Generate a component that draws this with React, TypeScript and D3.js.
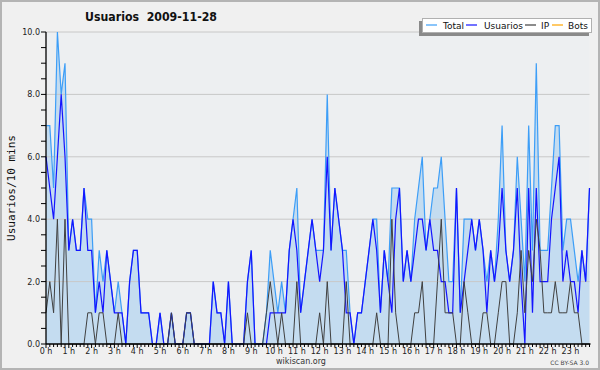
import React from 'react';
import * as d3 from 'd3';

// one value every 10 minutes, 00:00 .. 23:50
const total = [
  7, 7, 5, 10, 8, 9, 3, 4, 3, 3, 5, 4, 4, 1, 3, 2, 3, 2, 1, 2, 1, 0, 2, 3,
  3, 1, 1, 1, 0, 0, 1, 0, 0, 1, 0, 0, 0, 1, 1, 0, 0, 0, 0, 0, 2, 1, 1, 0,
  2, 0, 0, 0, 0, 2, 3, 0, 0, 0, 1, 3, 2, 1, 2, 1, 3, 4, 5, 1, 2, 3, 4, 3,
  3, 3, 8, 3, 5, 4, 3, 3, 1, 0, 1, 1, 2, 3, 4, 4, 1, 3, 2, 5, 5, 5, 2, 3,
  2, 4, 5, 6, 3, 4, 5, 5, 6, 4, 2, 2, 5, 1, 4, 4, 4, 3, 4, 3, 2, 3, 2, 4,
  7, 3, 2, 3, 6, 4, 2, 7, 3, 9, 3, 3, 3, 5, 7, 7, 3, 4, 4, 3, 2, 3, 2, 5,
];
const usuarios = [
  6, 5, 4, 6, 8, 6, 3, 4, 3, 3, 5, 3, 3, 1, 2, 1, 3, 2, 1, 1, 1, 0, 2, 3,
  3, 1, 1, 1, 0, 0, 1, 0, 0, 1, 0, 0, 0, 1, 1, 0, 0, 0, 0, 0, 2, 1, 1, 0,
  2, 0, 0, 0, 0, 2, 3, 0, 0, 0, 0, 1, 1, 1, 1, 1, 3, 4, 3, 1, 2, 3, 4, 3,
  2, 3, 6, 3, 5, 4, 3, 1, 1, 0, 1, 1, 2, 3, 4, 3, 1, 3, 2, 1, 4, 5, 2, 3,
  2, 3, 4, 4, 3, 4, 3, 3, 2, 2, 1, 1, 5, 1, 2, 3, 4, 3, 4, 3, 1, 3, 2, 3,
  5, 3, 2, 3, 5, 2, 0, 5, 1, 5, 2, 2, 2, 4, 5, 6, 2, 3, 2, 2, 1, 3, 2, 5,
];
const ip = [
  1, 2, 1, 4, 0, 4, 0, 0, 0, 0, 0, 1, 1, 0, 1, 1, 0, 0, 0, 1, 0, 0, 0, 0,
  0, 0, 0, 0, 0, 0, 0, 0, 0, 1, 0, 0, 0, 1, 1, 0, 0, 0, 0, 0, 0, 0, 0, 0,
  0, 0, 0, 0, 0, 1, 0, 0, 0, 0, 1, 2, 1, 0, 1, 0, 0, 0, 2, 0, 0, 0, 0, 0,
  1, 0, 2, 0, 0, 0, 0, 2, 0, 0, 0, 0, 0, 0, 0, 1, 0, 0, 0, 4, 1, 0, 0, 0,
  0, 1, 1, 2, 0, 0, 0, 2, 4, 1, 1, 1, 0, 0, 2, 1, 0, 0, 0, 1, 1, 0, 0, 1,
  2, 2, 0, 0, 1, 3, 1, 3, 2, 4, 3, 1, 1, 1, 2, 1, 1, 1, 2, 1, 1, 0, 0, 0,
];

const hourLabels = [
  '0 h', '1 h', '2 h', '3 h', '4 h', '5 h', '6 h', '7 h', '8 h', '9 h', '10 h', '11 h',
  '12 h', '13 h', '14 h', '15 h', '16 h', '17 h', '18 h', '19 h', '20 h', '21 h', '22 h', '23 h',
];
const yTicks = [0, 2, 4, 6, 8, 10];
const legendNames = ['Total', 'Usuarios', 'IP', 'Bots'];
const legendColors = ['#3d9ef7', '#1414ff', '#404040', '#ffa500'];

const W = 600;
const H = 370;
const plot = { left: 46, right: 589.5, top: 32, bottom: 344 };
const font = '"DejaVu Sans", Verdana, sans-serif';

export default function App() {
  const x = d3.scaleLinear().domain([0, total.length - 1]).range([plot.left, plot.right]);
  const y = d3.scaleLinear().domain([0, 10]).range([plot.bottom, plot.top]);

  const line = d3.line<number>().x((_, i) => x(i)).y(d => y(d));
  const area = d3.area<number>().x((_, i) => x(i)).y0(y(0)).y1(d => y(d));

  const minorY = d3.range(0, 10.5, 0.5);
  const fmt = d3.format('.1f');

  // legend layout: [line start, text start]
  const legendPos = [[426, 443], [466, 484], [525, 541], [552, 568]];

  return (
    <svg width={W} height={H} style={{ position: 'absolute', left: 0, top: 0, display: 'block' }}>
      <rect x={0} y={0} width={W} height={H} fill="#f0f0f0" />
      <rect x={1} y={1} width={W - 2} height={H - 2} fill="none" stroke="#b4b4b4" strokeWidth={2} />

      {/* title */}
      <text x={151} y={21} textAnchor="middle" fontFamily={font} fontSize={12.5} fontWeight="bold" fill="#111"
        textLength={132} lengthAdjust="spacingAndGlyphs" style={{ whiteSpace: 'pre' }}>
        {'Usuarios  2009-11-28'}
      </text>

      {/* plot background */}
      <rect x={plot.left} y={plot.top} width={plot.right - plot.left} height={plot.bottom - plot.top} fill="#edeff1" />

      <path d={area(total) || ''} fill="#c4dcf0" />

      {yTicks.slice(1).map(t => (
        <line key={t} x1={plot.left} x2={plot.right} y1={y(t)} y2={y(t)} stroke="#c8c8c8" strokeWidth={1} />
      ))}

      <path d={line(total) || ''} fill="none" stroke={legendColors[0]} strokeWidth={1.2} />
      <path d={line(usuarios) || ''} fill="none" stroke={legendColors[1]} strokeWidth={1.2} />
      <path d={line(ip) || ''} fill="none" stroke={legendColors[2]} strokeWidth={1} />

      {/* y axis */}
      <line x1={plot.left} x2={plot.left} y1={plot.top} y2={plot.bottom} stroke="#000" strokeWidth={1.3} />
      {minorY.map(t => (
        <line key={t} x1={plot.left - 5} x2={plot.left} y1={y(t)} y2={y(t)} stroke="#000" strokeWidth={1} />
      ))}
      {yTicks.map(t => (
        <text key={t} x={plot.left - 6} y={y(t) + 3} textAnchor="end" fontFamily={font} fontSize={8} fill="#222">
          {fmt(t)}
        </text>
      ))}
      <text transform={`translate(15, 188) rotate(-90)`} textAnchor="middle"
        fontFamily='"DejaVu Sans Mono", monospace' fontSize={11} fill="#111">
        Usuarios/10 mins
      </text>

      {/* x axis */}
      <line x1={plot.left} x2={plot.right + 1} y1={plot.bottom} y2={plot.bottom} stroke="#000" strokeWidth={1.3} />
      {total.map((_, i) => (
        <line key={i} x1={x(i)} x2={x(i)} y1={plot.bottom} y2={plot.bottom + (i % 6 === 0 ? 4 : 3)}
          stroke="#000" strokeWidth={1} />
      ))}
      {hourLabels.map((lab, h) => (
        <text key={lab} x={x(h * 6)} y={354} textAnchor="middle" fontFamily={font} fontSize={8} fill="#222">
          {lab}
        </text>
      ))}

      <text x={301} y={364} textAnchor="middle" fontFamily={font} fontSize={8} fill="#333">wikiscan.org</text>
      <text x={589} y={365} textAnchor="end" fontFamily={font} fontSize={6} fill="#444">CC BY-SA 3.0</text>

      {/* legend */}
      <rect x={419} y={21} width={170} height={15} fill="#8a8a8a" />
      <rect x={422.5} y={18.5} width={169} height={14} fill="#fff" stroke="#b0b0b0" strokeWidth={1} />
      {legendNames.map((name, k) => (
        <g key={name}>
          <line x1={legendPos[k][0]} x2={legendPos[k][0] + 11} y1={25} y2={25} stroke={legendColors[k]} strokeWidth={1.2} />
          <text x={legendPos[k][1]} y={28.5} fontFamily={font} fontSize={9} fill="#111">{name}</text>
        </g>
      ))}
    </svg>
  );
}
